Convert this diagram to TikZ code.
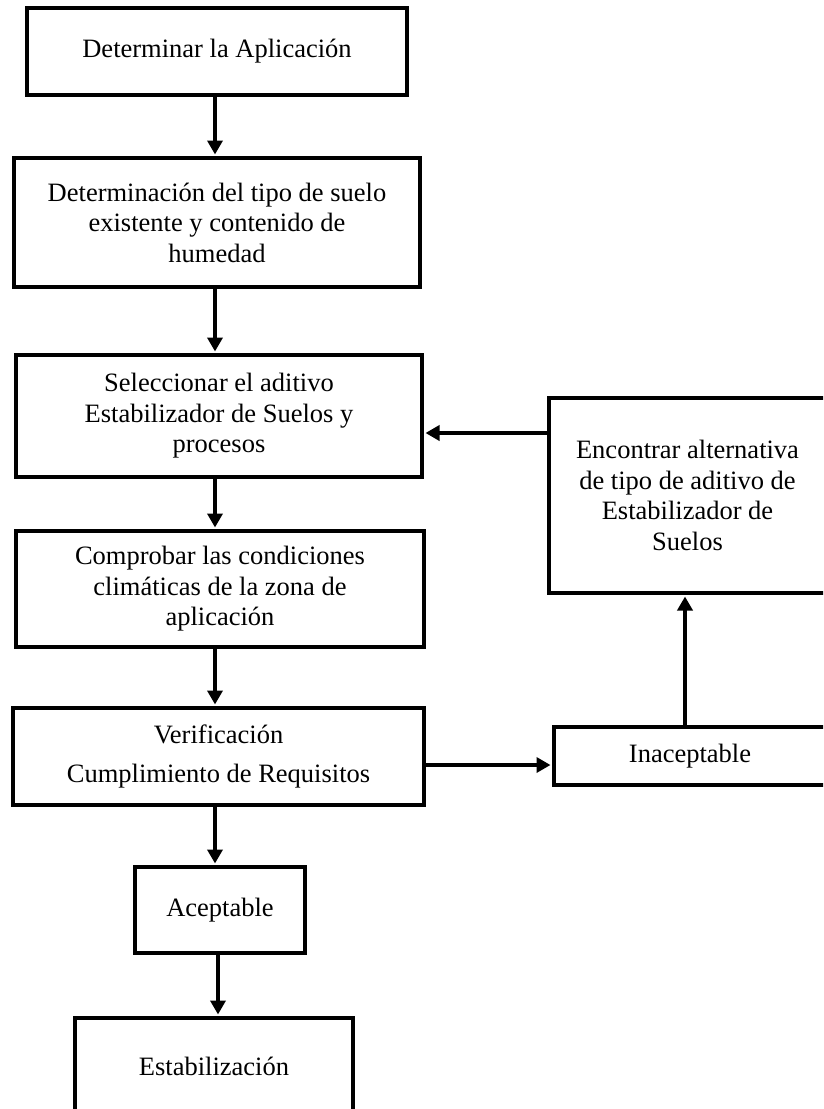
\documentclass[tikz,border=0pt]{standalone}
\usepackage{fontspec}
\setmainfont{Liberation Serif}
\usetikzlibrary{arrows.meta}
\begin{document}
\begin{tikzpicture}[x=1pt,y=-1pt,
  box/.style={draw=black, line width=4pt, rectangle, align=center, inner sep=0pt,
    font=\fontsize{26.5}{30.5}\selectfont},
  arr/.style={line width=4.5pt, -{Triangle[length=14pt,width=15pt]}, shorten >=1.5pt}
]
\useasboundingbox (0,0) rectangle (823,1109);
\fill[white] (0,0) rectangle (823,1109);
\clip (0,0) rectangle (823,1109);

\node[box, minimum width=380pt, minimum height=87pt] (b1) at (217,51.5) {Determinar la Aplicación};
\node[box, minimum width=406pt, minimum height=129pt] (b2) at (217,222.5)
  {Determinación del tipo de suelo\\existente y contenido de\\humedad};
\node[box, minimum width=406pt, minimum height=122pt] (b3) at (219,416)
  {Seleccionar el aditivo\\Estabilizador de Suelos y\\procesos};
\node[box, minimum width=408pt, minimum height=116pt] (b4) at (220,589)
  {Comprobar las condiciones\\climáticas de la zona de\\aplicación};
\node[box, minimum width=411pt, minimum height=97pt] (b5) at (218.5,756.5)
  {Verificación\\[8pt]Cumplimiento de Requisitos};
\node[box, minimum width=170pt, minimum height=86pt] (acep) at (220,910) {Aceptable};
\node[box, minimum width=278pt, minimum height=97pt] (estab) at (214,1066.5) {Estabilización};
\node[box, minimum width=277pt, minimum height=195pt] (enc) at (687.5,495.5)
  {Encontrar alternativa\\de tipo de aditivo de\\Estabilizador de\\Suelos};
\node[box, minimum width=272pt, minimum height=58pt] (inac) at (690,756) {Inaceptable};

\coordinate (ax) at (215,0);
\coordinate (ax2) at (218,0);
\coordinate (ax3) at (685,0);
\coordinate (ay1) at (0,433);
\coordinate (ay2) at (0,765);

\draw[arr] (b1.south -| ax) -- (b2.north -| ax);
\draw[arr] (b2.south -| ax) -- (b3.north -| ax);
\draw[arr] (b3.south -| ax) -- (b4.north -| ax);
\draw[arr] (b4.south -| ax) -- (b5.north -| ax);
\draw[arr] (b5.south -| ax) -- (acep.north -| ax);
\draw[arr] (acep.south -| ax2) -- (estab.north -| ax2);
\draw[arr] (b5.east |- ay2) -- (inac.west |- ay2);
\draw[arr] (inac.north -| ax3) -- (enc.south -| ax3);
\draw[arr] (enc.west |- ay1) -- (b3.east |- ay1);
\end{tikzpicture}
\end{document}
